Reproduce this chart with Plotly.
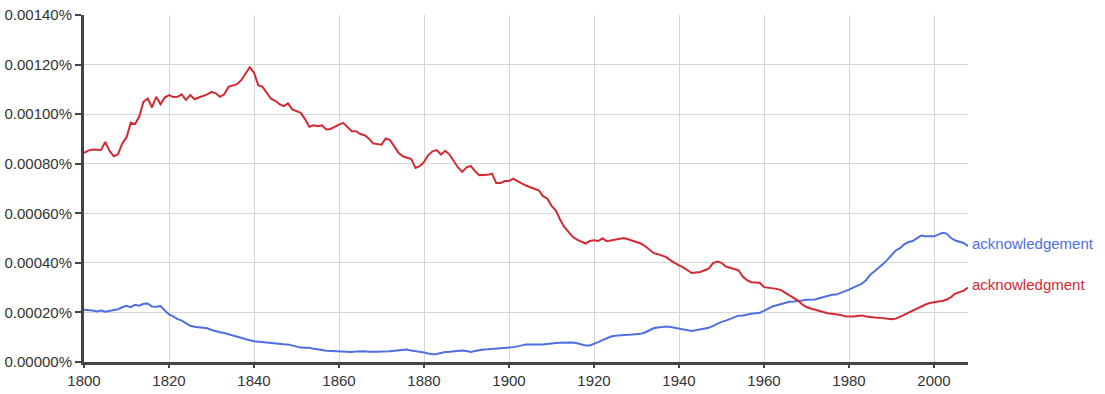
import plotly.graph_objects as go

years = list(range(1800, 2009))

# acknowledgment (red), values in percent
acknowledgment = [
    0.000844, 0.000853, 0.000857, 0.000857, 0.000855, 0.000888, 0.000852, 0.000830, 0.000838, 0.000882,
    0.000906, 0.000965, 0.000960, 0.000990, 0.001050, 0.001063, 0.001027, 0.001070, 0.001040, 0.001067,
    0.001077, 0.001069, 0.001070, 0.001080, 0.001057, 0.001077, 0.001060, 0.001067, 0.001073, 0.001080,
    0.001090, 0.001084, 0.001070, 0.001080, 0.001110, 0.001117, 0.001121, 0.001137, 0.001162, 0.001189,
    0.001167, 0.001117, 0.001110, 0.001086, 0.001062, 0.001054, 0.001040, 0.001032, 0.001043, 0.001019,
    0.001011, 0.001005, 0.000980, 0.000949, 0.000955, 0.000951, 0.000955, 0.000938, 0.000940, 0.000950,
    0.000958, 0.000965, 0.000948, 0.000931, 0.000931, 0.000920, 0.000915, 0.000902, 0.000882, 0.000880,
    0.000877, 0.000902, 0.000895, 0.000870, 0.000844, 0.000830, 0.000825, 0.000819, 0.000783, 0.000790,
    0.000807, 0.000835, 0.000850, 0.000855, 0.000837, 0.000852, 0.000837, 0.000810, 0.000785, 0.000767,
    0.000785, 0.000791, 0.000770, 0.000754, 0.000753, 0.000755, 0.000760, 0.000722, 0.000722, 0.000730,
    0.000730, 0.000740, 0.000730, 0.000720, 0.000712, 0.000705, 0.000698, 0.000693, 0.000669, 0.000660,
    0.000630, 0.000612, 0.000575, 0.000545, 0.000525, 0.000505, 0.000494, 0.000485, 0.000478, 0.000488,
    0.000491, 0.000488, 0.000499, 0.000487, 0.000490, 0.000492, 0.000495, 0.000500, 0.000495, 0.000490,
    0.000485, 0.000478, 0.000468, 0.000455, 0.000440, 0.000435, 0.000430, 0.000423, 0.000410, 0.000399,
    0.000390, 0.000382, 0.000370, 0.000359, 0.000361, 0.000363, 0.000370, 0.000377, 0.000399, 0.000405,
    0.000400, 0.000385, 0.000380, 0.000375, 0.000370, 0.000345, 0.000330, 0.000322, 0.000322, 0.000320,
    0.000302, 0.000300, 0.000299, 0.000295, 0.000290, 0.000280, 0.000268, 0.000258, 0.000248, 0.000232,
    0.000222, 0.000216, 0.000211, 0.000205, 0.000200, 0.000197, 0.000195, 0.000194, 0.000190, 0.000185,
    0.000184, 0.000184, 0.000186, 0.000188, 0.000184, 0.000181, 0.000180, 0.000179, 0.000177, 0.000175,
    0.000173, 0.000175, 0.000181, 0.000190, 0.000199, 0.000208, 0.000216, 0.000224, 0.000232, 0.000238,
    0.000242, 0.000244, 0.000246, 0.000252, 0.000262, 0.000276, 0.000282, 0.000288, 0.000300,
]

# acknowledgement (blue), values in percent
acknowledgement = [
    0.000211, 0.000211, 0.000208, 0.000204, 0.000208, 0.000203, 0.000207, 0.000210, 0.000213, 0.000221,
    0.000227, 0.000221, 0.000231, 0.000227, 0.000235, 0.000236, 0.000224, 0.000223, 0.000226, 0.000208,
    0.000192, 0.000184, 0.000173, 0.000167, 0.000156, 0.000146, 0.000142, 0.000140, 0.000139, 0.000136,
    0.000129, 0.000123, 0.000120, 0.000117, 0.000112, 0.000105, 0.000100, 0.000095, 0.000092, 0.000088,
    0.000084, 0.000082, 0.000081, 0.000080, 0.000078, 0.000076, 0.000072, 0.000072, 0.000071, 0.000066,
    0.000062, 0.000058, 0.000057, 0.000057, 0.000053, 0.000049, 0.000048, 0.000045, 0.000044, 0.000042,
    0.000040, 0.000041, 0.000040, 0.000040, 0.000042, 0.000044, 0.000043, 0.000041, 0.000040, 0.000041,
    0.000042, 0.000041, 0.000043, 0.000045, 0.000047, 0.000049, 0.000050, 0.000046, 0.000044, 0.000041,
    0.000038, 0.000034, 0.000031, 0.000032, 0.000037, 0.000040, 0.000041, 0.000043, 0.000044, 0.000046,
    0.000044, 0.000040, 0.000044, 0.000048, 0.000050, 0.000051, 0.000052, 0.000054, 0.000056, 0.000057,
    0.000057, 0.000060, 0.000063, 0.000067, 0.000071, 0.000071, 0.000070, 0.000070, 0.000071, 0.000073,
    0.000076, 0.000077, 0.000078, 0.000079, 0.000081, 0.000079, 0.000076, 0.000070, 0.000067, 0.000067,
    0.000072, 0.000080, 0.000088, 0.000096, 0.000103, 0.000106, 0.000108, 0.000109, 0.000110, 0.000111,
    0.000112, 0.000114, 0.000119, 0.000126, 0.000136, 0.000139, 0.000141, 0.000143, 0.000141, 0.000137,
    0.000134, 0.000131, 0.000128, 0.000125, 0.000128, 0.000130, 0.000134, 0.000138, 0.000146, 0.000155,
    0.000162, 0.000167, 0.000173, 0.000182, 0.000187, 0.000188, 0.000190, 0.000195, 0.000197, 0.000199,
    0.000206, 0.000216, 0.000224, 0.000229, 0.000234, 0.000240, 0.000243, 0.000244, 0.000245, 0.000248,
    0.000251, 0.000252, 0.000252, 0.000257, 0.000262, 0.000268, 0.000271, 0.000272, 0.000278, 0.000285,
    0.000292, 0.000300, 0.000308, 0.000316, 0.000330, 0.000352, 0.000366, 0.000380, 0.000395, 0.000412,
    0.000429, 0.000450, 0.000459, 0.000475, 0.000484, 0.000488, 0.000500, 0.000510, 0.000507, 0.000507,
    0.000507, 0.000514, 0.000521, 0.000518, 0.000500, 0.000490, 0.000484, 0.000480, 0.000467,
]

series_names = ["acknowledgement", "acknowledgment"]
series_colors = ["#4F6FE0", "#D32A32"]
series_values = [acknowledgement, acknowledgment]

x_ticks = [1800, 1820, 1840, 1860, 1880, 1900, 1920, 1940, 1960, 1980, 2000]
y_ticks = [0, 0.0002, 0.0004, 0.0006, 0.0008, 0.0010, 0.0012, 0.0014]
y_tick_labels = ["0.00000%", "0.00020%", "0.00040%", "0.00060%",
                 "0.00080%", "0.00100%", "0.00120%", "0.00140%"]

FONT = "Liberation Sans, Arial, Helvetica, sans-serif"

fig = go.Figure()
for name, color, vals in zip(series_names, series_colors, series_values):
    fig.add_trace(go.Scatter(
        x=years, y=vals, mode="lines", name=name,
        line=dict(color=color, width=2), hoverinfo="x+y+name",
    ))
    fig.add_annotation(
        x=years[-1], y=vals[-1], text=name, showarrow=False,
        xanchor="left", yanchor="middle", xshift=2, yshift=3,
        font=dict(family=FONT, size=15, color=color),
    )

fig.update_layout(
    width=1105, height=394,
    margin=dict(l=84, r=137, t=15, b=32, pad=0),
    paper_bgcolor="white", plot_bgcolor="white",
    showlegend=False,
    font=dict(family=FONT, size=15, color="#333333"),
)
fig.update_xaxes(
    range=[1800, 2008], tickvals=x_ticks, ticktext=[str(t) for t in x_ticks],
    showgrid=True, gridcolor="#D6D6D6", gridwidth=1,
    showline=True, linecolor="#444444", linewidth=3,
    ticks="outside", ticklen=3, tickwidth=2, tickcolor="#444444",
    zeroline=False, tickfont=dict(size=15, color="#333333"),
    automargin=False,
)
fig.update_yaxes(
    range=[0, 0.0014], tickvals=y_ticks, ticktext=y_tick_labels,
    showgrid=True, gridcolor="#D6D6D6", gridwidth=1,
    showline=True, linecolor="#444444", linewidth=3,
    ticks="outside", ticklen=6, tickwidth=2, tickcolor="#444444",
    zeroline=False, tickfont=dict(size=15, color="#333333"),
    automargin=False,
)

fig.write_html("out.html")
